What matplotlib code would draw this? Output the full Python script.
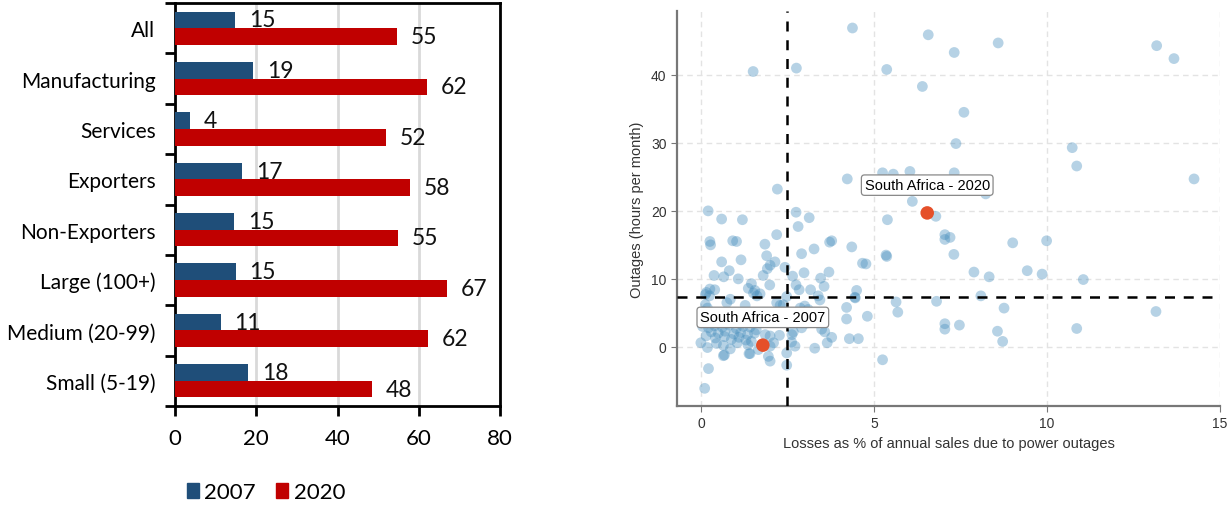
import matplotlib
matplotlib.use('Agg')
import matplotlib.pyplot as plt
from matplotlib.patches import Patch
import numpy as np

# bar chart data (share of firms, %)
categories = ['All', 'Manufacturing', 'Services', 'Exporters', 'Non-Exporters',
              'Large (100+)', 'Medium (20-99)', 'Small (5-19)']
share_2007 = [14.8, 19.3, 3.7, 16.6, 14.6, 14.9, 11.2, 18.0]
share_2020 = [54.6, 62.1, 51.9, 57.8, 54.8, 67.0, 62.2, 48.4]
bar_ticks = [0, 20, 40, 60, 80]

# scatter data: losses (% of sales) vs outages (hours per month)
loss_pct = [
    4.38, 6.57, 7.32, 8.59, 13.17, 13.67, 1.51, 2.76, 5.37, 6.40, 7.60,
    7.37, 10.73, 10.86, 7.32, 5.25, 5.56, 6.04, 4.23, 14.25, 2.21, 8.23, 6.11,
    6.79, 7.05, 7.05, 7.20, 7.31, 9.01, 9.99, 7.89, 8.33, 9.43, 9.86, 11.05,
    8.09, 6.81, 8.76, 7.05, 7.05, 7.47, 8.57, 8.72, 10.86, 13.15,
    5.39, 5.35, 5.37, 4.67, 4.77, 4.36, 3.78, 3.72, 3.27, 2.91, 2.98, 2.65,
    3.46, 3.70, 3.56, 2.75, 2.84, 3.17, 4.50, 4.45, 5.64, 5.69, 4.21, 4.21,
    4.81, 4.29, 4.55, 5.25, 3.29, 3.65, 3.78, 3.49, 3.58, 2.67, 2.62, 2.72,
    2.48, 2.75, 3.13, 2.81,
    0.21, 0.60, 1.20, 0.26, 0.28, 0.92, 1.03, 1.85, 2.19, 0.60, 1.16, 1.90,
    2.00, 1.92, 2.14, 0.82, 0.38, 0.66, 1.08, 2.43, 1.80, 1.46, 1.37, 1.56,
    1.99, 0.26, 0.16, 0.40, 1.71,
    0.13, 0.25, 1.52, 1.62, 2.48, 3.39, 3.44, 4.46, 2.19, 2.38, 2.29, 0.85,
    0.75, 0.13, 0.19, 0.08, 1.28, 2.87, 3.00, 3.10, 3.06, 2.91,
    0.10, 0.35, 0.55, 0.90, 1.25, 1.60, 2.05, 0.05, 0.22, 0.40, 0.62, 0.82,
    1.02, 1.22, 1.42, 1.60, 0.30, 0.50, 0.70, 0.95, 1.15, 1.35, 1.55, 0.15,
    0.42, 0.68, 0.88, 1.10, 1.30, 0.00, 0.19, 0.45, 0.65, 0.85, 1.05, 1.36,
    1.46, 1.66, 2.00, 2.10, 1.86, 2.00, 2.27, 2.63, 0.68, 1.39, 1.95, 2.00,
    0.65, 1.42, 0.22, 0.11, 2.48,
]
outage_hrs = [
    46.9, 45.9, 43.3, 44.7, 44.3, 42.4, 40.5, 41.0, 40.8, 38.3, 34.5,
    29.9, 29.3, 26.6, 25.6, 25.6, 25.4, 25.8, 24.7, 24.7, 23.2, 22.5, 21.4,
    19.2, 16.5, 15.8, 16.1, 13.6, 15.3, 15.6, 11.0, 10.3, 11.2, 10.7, 9.9,
    7.5, 6.7, 5.7, 3.4, 2.6, 3.2, 2.3, 0.8, 2.7, 5.2,
    18.7, 13.5, 13.3, 12.3, 12.2, 14.7, 15.6, 15.4, 14.4, 13.7, 10.9, 10.4,
    10.1, 11.0, 8.9, 9.1, 8.4, 8.4, 8.3, 7.3, 6.6, 5.1, 5.8, 4.1,
    4.5, 1.2, 1.2, -1.9, -0.2, 0.6, 1.4, 2.6, 2.2, 2.2, 0.7, 0.1,
    -2.7, 19.8, 19.0, 17.7,
    20.0, 18.8, 18.7, 15.5, 15.0, 15.6, 15.5, 15.1, 16.5, 12.5, 12.8, 13.4,
    12.0, 11.5, 12.5, 11.2, 10.5, 10.3, 10.0, 11.7, 10.5, 9.3, 8.6, 8.3,
    9.1, 8.5, 8.0, 8.4, 7.8,
    7.7, 7.5, 7.9, 7.5, 7.4, 7.5, 6.9, 7.2, 6.5, 6.2, 6.1, 7.0,
    6.5, 6.2, 5.7, 5.2, 6.1, 5.7, 6.0, 5.5, 3.5, 2.8,
    4.5, 4.2, 4.6, 4.4, 4.7, 4.3, 4.8, 3.0, 2.8, 3.1, 2.9, 3.2,
    2.7, 3.0, 2.9, 2.5, 2.2, 2.0, 2.3, 1.9, 2.1, 1.8, 2.0, 1.6,
    1.3, 1.5, 1.1, 1.4, 1.0, 0.6, -0.1, 0.5, 0.2, -0.3, 0.6, 0.3,
    0.8, -0.4, 0.1, 0.6, 1.8, 1.6, 1.7, 1.8, -1.2, -1.0, -1.4, -2.1,
    -1.3, -1.0, -3.2, -6.1, -0.9,
]
sa_labels = ['South Africa - 2007', 'South Africa - 2020']
sa_loss = [1.79, 6.54]
sa_outage = [0.25, 19.7]
mean_loss = 2.5
mean_outage = 7.3

blue = '#1F4E79'
red = '#C00000'

fig = plt.figure(figsize=(12.27, 5.06), dpi=100)

# ---------------- left: bar chart ----------------
ax = fig.add_axes([175/1227, 1 - 407/506, 325/1227, 403/506])
y = np.arange(len(categories))
h = 0.33
b1 = ax.barh(y - h/2, share_2007, height=h, color=blue, zorder=3)
b2 = ax.barh(y + h/2, share_2020, height=h, color=red, zorder=3)
for bars, vals in [(b1, share_2007), (b2, share_2020)]:
    for rect, v in zip(bars, vals):
        ax.annotate(f'{v:.0f}', (rect.get_width(), rect.get_y() + rect.get_height()/2),
                    xytext=(10, 0), textcoords='offset points', ha='left', va='center',
                    fontsize=16.5, family='Lato', color='#111111', zorder=4)
ax.set_xlim(0, 80)
ax.set_ylim(len(categories) - 0.5, -0.5)
ax.set_xticks(bar_ticks)
ax.set_xticklabels([str(t) for t in bar_ticks], fontsize=16, family='Lato')
ax.set_yticks(y)
ax.set_yticklabels(categories, fontsize=15, family='Lato')
ax.set_yticks(np.arange(-0.5, len(categories)), minor=True)
ax.tick_params(axis='y', which='major', length=0, pad=14)
ax.tick_params(axis='y', which='minor', length=7, width=2, direction='out')
ax.tick_params(axis='x', length=7, width=2, direction='out', pad=9)
ax.grid(axis='x', color='#d9d9d9', lw=2, zorder=0)
for s in ax.spines.values():
    s.set_linewidth(2)
    s.set_color('black')

fig.legend(handles=[Patch(color=blue, label='2007'), Patch(color=red, label='2020')],
           loc='center', bbox_to_anchor=(266/1227, 1 - 493/506), ncol=2, frameon=False,
           prop={'family': 'Lato', 'size': 16}, handlelength=0.55, handleheight=0.65,
           handletextpad=0.25, columnspacing=0.9)

# ---------------- right: scatter ----------------
ax2 = fig.add_axes([677/1227, 1 - 407/506, 543/1227, 395/506])
ax2.scatter(loss_pct, outage_hrs, s=60, color='#4A90BE', alpha=0.4, edgecolors='none', zorder=3)
ax2.scatter(sa_loss, sa_outage, s=95, color='#E5502A', edgecolors='none', zorder=5)
ax2.axvline(mean_loss, color='black', ls=(0, (4, 3.5)), lw=1.8, zorder=4)
ax2.axhline(mean_outage, color='black', ls=(0, (4, 3.5)), lw=1.8, zorder=4)
for lab, lx, ly in zip(sa_labels, sa_loss, sa_outage):
    ax2.annotate(lab, (lx, ly), xytext=(0, 20), textcoords='offset points',
                 ha='center', va='center', fontsize=10.5, family='Liberation Sans', zorder=6,
                 bbox=dict(boxstyle='round,pad=0.22', fc='white', ec='#888888', lw=0.9))
ax2.set_xlim(-0.69, 15.0)
ax2.set_ylim(-8.7, 49.4)
ax2.set_xticks([0, 5, 10, 15])
ax2.set_yticks([0, 10, 20, 30, 40])
ax2.grid(color='#e3e3e3', ls=(0, (4, 3)), lw=1, zorder=0)
ax2.spines['top'].set_visible(False)
ax2.spines['right'].set_visible(False)
for s in ['left', 'bottom']:
    ax2.spines[s].set_color('#777777')
    ax2.spines[s].set_linewidth(1.6)
ax2.tick_params(colors='#333333', labelsize=10, length=4, color='#777777')
for t in ax2.get_xticklabels() + ax2.get_yticklabels():
    t.set_family('Liberation Sans')
ax2.set_xlabel('Losses as % of annual sales due to power outages',
               fontsize=10.5, family='Liberation Sans', color='#333333', labelpad=4)
ax2.set_ylabel('Outages (hours per month)', fontsize=10.5, family='Liberation Sans',
               color='#333333', labelpad=5)

fig.savefig('out.png', dpi=100)
